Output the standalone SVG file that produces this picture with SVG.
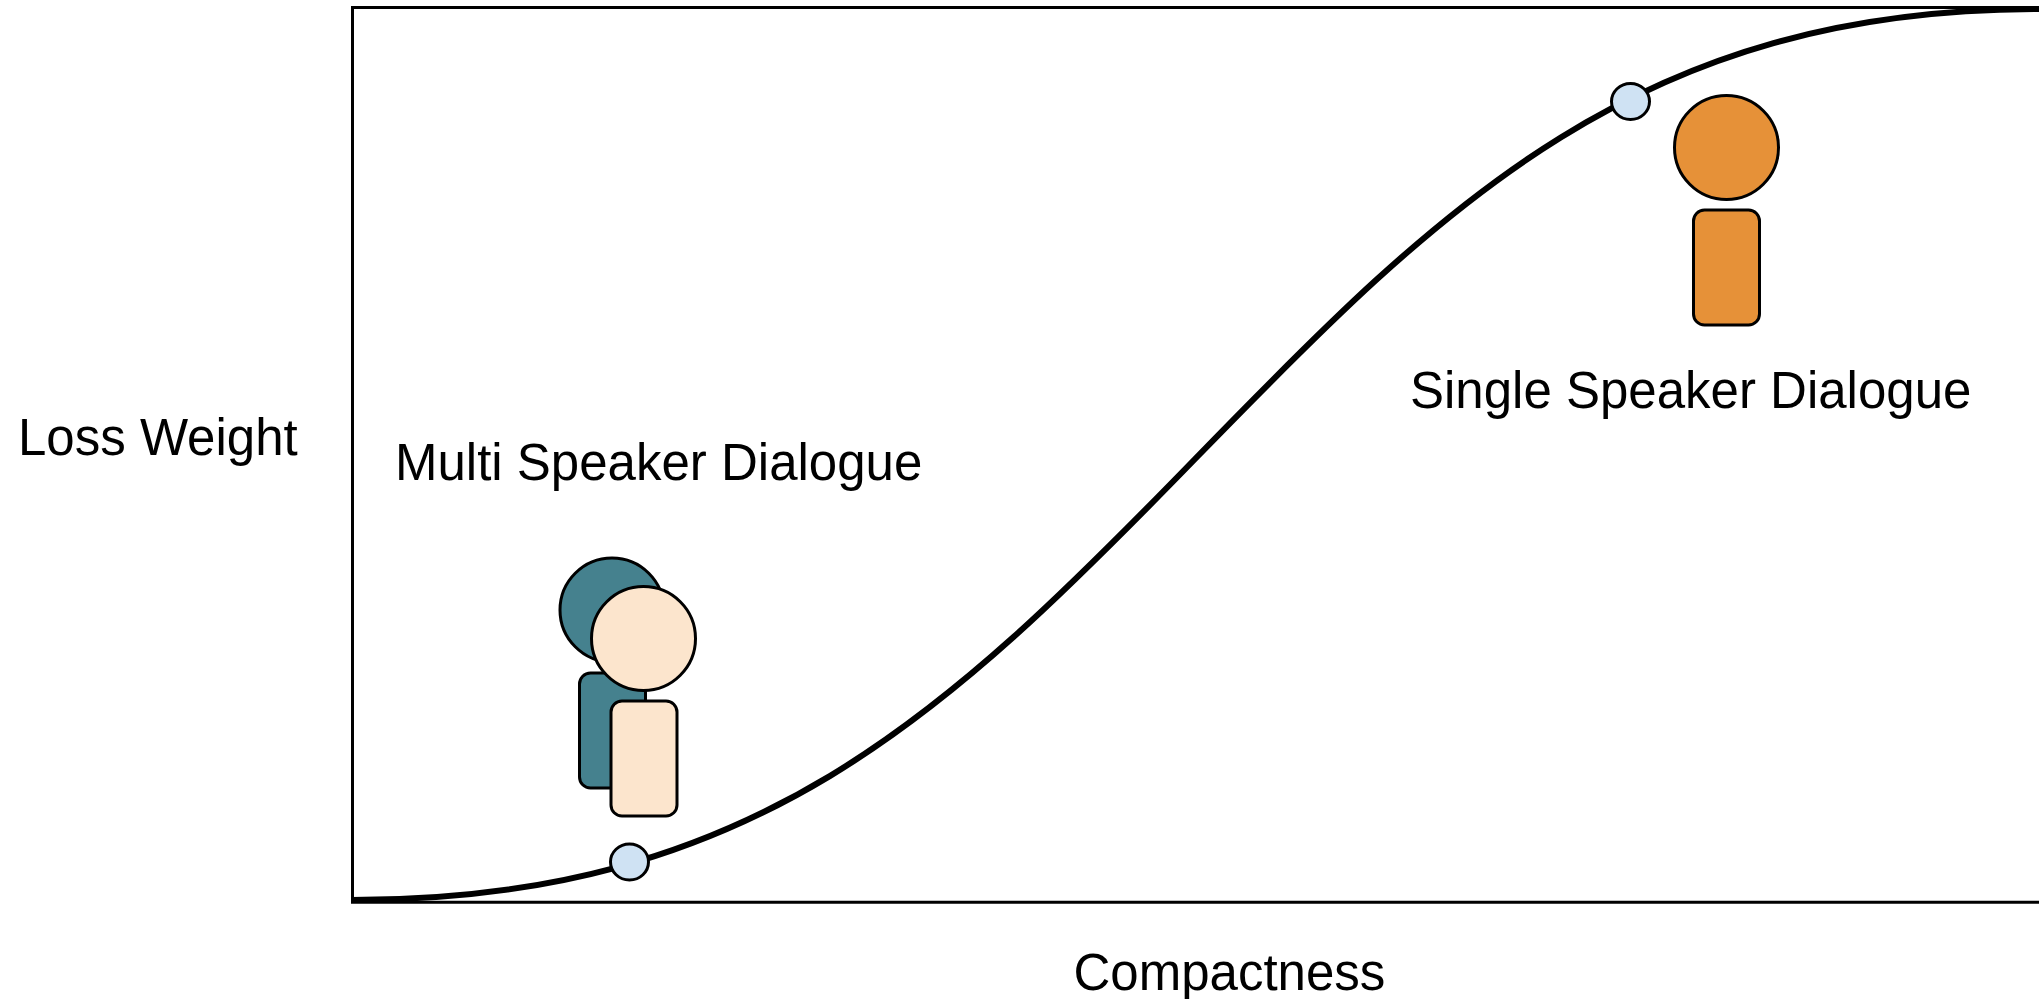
<svg xmlns="http://www.w3.org/2000/svg" width="2039" height="999" viewBox="0 0 2039 999">
<style>
text{font-family:"Liberation Sans",Arial,sans-serif;font-size:51px;fill:#000}
.s{stroke:#000;stroke-width:3}
.teal{fill:#45818e}.cream{fill:#fce5cd}.orange{fill:#e69138}.dot{fill:#cfe2f3}
</style>
<rect width="2039" height="999" fill="#fff"/>
<g id="connectors" fill="none" stroke="#000">
<path id="axes" d="M2041 7.500H352.500V902.300H2041" stroke-width="3"/>
<path id="curve" d="M352 900C752 900 945 716.500 1195 459C1445 201.500 1639 9 2039 9" stroke-width="6"/>
</g>
<g id="speaker-teal"><circle class="s teal" cx="612" cy="610" r="52"/><rect class="s teal" x="579.500" y="673" width="66" height="115" rx="11"/></g>
<g id="speaker-cream"><rect class="s cream" x="611" y="701" width="66" height="115" rx="11"/><circle class="s cream" cx="643.500" cy="638.500" r="52"/></g>
<g id="speaker-orange"><circle class="s orange" cx="1726.500" cy="147.500" r="52"/><rect class="s orange" x="1693.500" y="210" width="66" height="115" rx="11"/></g>
<g id="dot-low"><ellipse class="s dot" cx="629.500" cy="862" rx="19" ry="18"/></g>
<g id="dot-high"><ellipse class="s dot" cx="1630.500" cy="101.500" rx="19" ry="18"/></g>
<g id="label-y"><text x="18" y="455">Loss Weight</text></g>
<g id="label-x"><text x="1073.500" y="990">Compactness</text></g>
<g id="label-multi"><text x="395" y="480">Multi Speaker Dialogue</text></g>
<g id="label-single"><text x="1410" y="408">Single Speaker Dialogue</text></g>
</svg>
